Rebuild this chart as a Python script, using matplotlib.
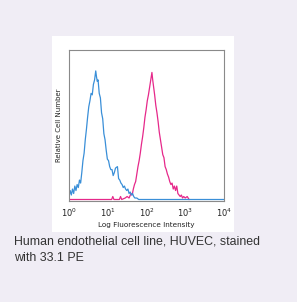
import matplotlib.pyplot as plt
from matplotlib.patches import Rectangle

# decade positions (log10 of intensity) and relative counts
blue_logx = [0.00, 0.03, 0.06, 0.09, 0.12, 0.15, 0.18, 0.21, 0.24, 0.27, 0.30, 0.33,
             0.36, 0.39, 0.42, 0.45, 0.48, 0.51, 0.54, 0.57, 0.60, 0.63, 0.66, 0.69,
             0.71, 0.73, 0.75, 0.78, 0.81, 0.84, 0.87, 0.90, 0.93, 0.96, 0.99, 1.02,
             1.05, 1.08, 1.11, 1.14, 1.17, 1.20, 1.25, 1.28, 1.31, 1.34, 1.37, 1.40,
             1.43, 1.46, 1.49, 1.52, 1.55, 1.58, 1.61, 1.64, 1.67, 1.70, 1.75, 1.80, 4.00]
blue_y = [0.02, 0.06, 0.03, 0.07, 0.04, 0.09, 0.06, 0.10, 0.08, 0.13, 0.11, 0.18,
          0.26, 0.31, 0.40, 0.47, 0.55, 0.62, 0.66, 0.71, 0.70, 0.77, 0.80, 0.86,
          0.82, 0.79, 0.80, 0.71, 0.68, 0.58, 0.54, 0.44, 0.40, 0.33, 0.27, 0.26,
          0.22, 0.20, 0.20, 0.16, 0.18, 0.21, 0.22, 0.14, 0.13, 0.11, 0.10, 0.08,
          0.09, 0.07, 0.06, 0.07, 0.04, 0.05, 0.03, 0.04, 0.02, 0.01, 0.01, 0.00, 0.00]

pink_logx = [0.00, 1.10, 1.13, 1.16, 1.30, 1.33, 1.36, 1.45, 1.50, 1.55, 1.60, 1.63,
             1.66, 1.69, 1.72, 1.75, 1.78, 1.81, 1.84, 1.87, 1.90, 1.93, 1.96, 1.99,
             2.02, 2.05, 2.08, 2.11, 2.14, 2.16, 2.18, 2.21, 2.24, 2.27, 2.30, 2.33,
             2.36, 2.39, 2.42, 2.45, 2.48, 2.51, 2.54, 2.57, 2.60, 2.63, 2.66, 2.69,
             2.72, 2.75, 2.78, 2.81, 2.84, 2.87, 2.90, 2.93, 2.96, 3.00, 3.05, 3.10]
pink_y = [0.00, 0.00, 0.02, 0.00, 0.00, 0.02, 0.00, 0.01, 0.02, 0.01, 0.04, 0.03,
          0.07, 0.10, 0.12, 0.17, 0.22, 0.26, 0.31, 0.37, 0.42, 0.48, 0.55, 0.60,
          0.66, 0.70, 0.75, 0.80, 0.85, 0.80, 0.76, 0.70, 0.63, 0.58, 0.52, 0.45,
          0.40, 0.35, 0.30, 0.28, 0.22, 0.20, 0.17, 0.15, 0.12, 0.10, 0.11, 0.07,
          0.09, 0.06, 0.09, 0.04, 0.03, 0.02, 0.03, 0.01, 0.02, 0.01, 0.02, 0.00]

tick_vals = [1, 10, 100, 1000, 10000]
tick_labels = [r"$10^{0}$", r"$10^{1}$", r"$10^{2}$", r"$10^{3}$", r"$10^{4}$"]

fig = plt.figure(figsize=(2.97, 3.02), dpi=100)
fig.patch.set_facecolor("#f0edf5")

fig.patches.append(Rectangle((52 / 297, 70 / 302), 182 / 297, 196 / 302,
                             transform=fig.transFigure, facecolor="white",
                             edgecolor="none", zorder=-1))

ax = fig.add_axes([69 / 297, 101 / 302, 155 / 297, 151 / 302])
ax.set_zorder(1)
ax.set_facecolor("white")
ax.plot([10 ** v for v in pink_logx], pink_y, color="#e6288a", lw=0.9)
ax.plot([10 ** v for v in blue_logx], blue_y, color="#3a8fd8", lw=0.9)
ax.set_xscale("log")
ax.set_xlim(1, 10000)
ax.set_ylim(-0.01, 1)
ax.set_xticks(tick_vals)
ax.set_xticklabels(tick_labels, fontsize=6, color="#222222")
ax.minorticks_off()
ax.set_yticks([])
ax.tick_params(axis="x", length=0, pad=4)
for s in ax.spines.values():
    s.set_color("#8a8a8a")
    s.set_linewidth(0.8)
ax.set_xlabel("Log Fluorescence Intensity", fontsize=5.2, color="#222222", labelpad=2)
ax.set_ylabel("Relative Cell Number", fontsize=5.0, color="#222222", labelpad=5)

fig.text(14 / 297, 1 - 236 / 302, "Human endothelial cell line, HUVEC, stained\nwith 33.1 PE",
         fontsize=8.9, family="Liberation Sans", color="#333333",
         ha="left", va="top", linespacing=1.45, transform=fig.transFigure)

fig.savefig("out.png", dpi=100, facecolor=fig.get_facecolor())
